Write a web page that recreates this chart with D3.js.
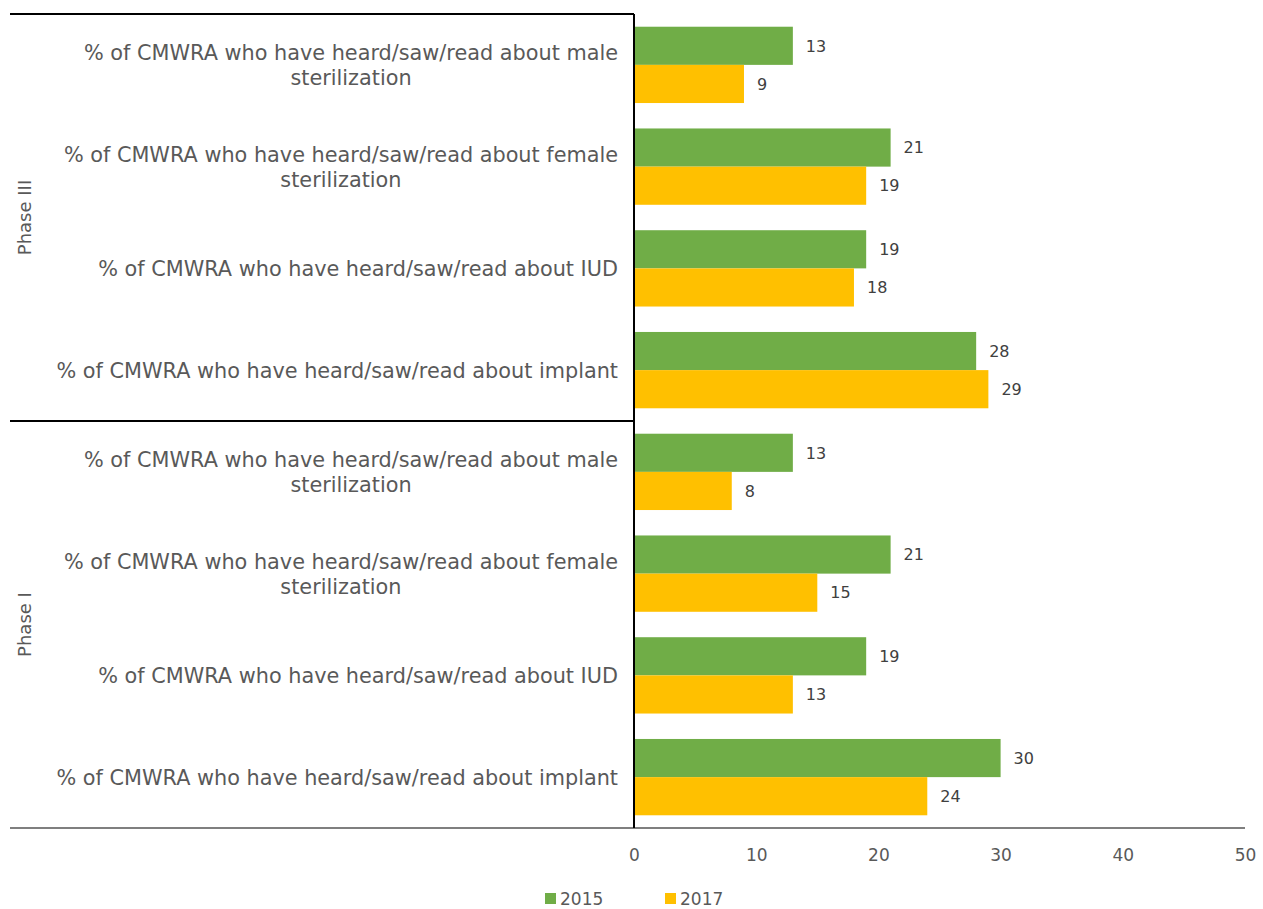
<!DOCTYPE html>
<html>
<head>
<meta charset="utf-8">
<script src="https://cdn.jsdelivr.net/npm/d3@7"></script>
<style>
  body { margin: 0; background: #fff; }
  svg text { font-family: "DejaVu Sans", "Open Sans", sans-serif; }
</style>
</head>
<body>
<svg id="chart" width="1263" height="909"></svg>
<script>
// Awareness of long-acting / permanent methods, by phase
const categories = [
  "% of CMWRA who have heard/saw/read about male sterilization",
  "% of CMWRA who have heard/saw/read about female sterilization",
  "% of CMWRA who have heard/saw/read about IUD",
  "% of CMWRA who have heard/saw/read about implant",
  "% of CMWRA who have heard/saw/read about male sterilization",
  "% of CMWRA who have heard/saw/read about female sterilization",
  "% of CMWRA who have heard/saw/read about IUD",
  "% of CMWRA who have heard/saw/read about implant"
];
// Line breaks used for the category labels
const categoryLines = [
  ["% of CMWRA who have heard/saw/read about male", "sterilization"],
  ["% of CMWRA who have heard/saw/read about female", "sterilization"],
  ["% of CMWRA who have heard/saw/read about IUD"],
  ["% of CMWRA who have heard/saw/read about implant"],
  ["% of CMWRA who have heard/saw/read about male", "sterilization"],
  ["% of CMWRA who have heard/saw/read about female", "sterilization"],
  ["% of CMWRA who have heard/saw/read about IUD"],
  ["% of CMWRA who have heard/saw/read about implant"]
];
const phases = ["Phase III", "Phase I"];
const phaseSize = 4;
const seriesNames = ["2015", "2017"];
const values2015 = [13, 21, 19, 28, 13, 21, 19, 30];
const values2017 = [9, 19, 18, 29, 8, 15, 13, 24];
const xTicks = [0, 10, 20, 30, 40, 50];
const colors = ["#70AD47", "#FFC000"];

const svg = d3.select("#chart");
const plotLeft = 634, plotRight = 1245, plotTop = 14, plotBottom = 828, frameLeft = 10;
const labelRight = 618, labelWidest = 562;

const x = d3.scaleLinear().domain([0, 50]).range([plotLeft, plotRight]);
const idx = d3.range(categories.length);
const y = d3.scaleBand().domain(idx).range([plotTop, plotBottom]).paddingInner(0.25).paddingOuter(0.125);
const sub = d3.scaleBand().domain(seriesNames).range([0, y.bandwidth()]);
const series = [values2015, values2017];

// Bars and value labels
series.forEach((vals, s) => {
  svg.append("g").selectAll("rect").data(idx).join("rect")
    .attr("x", x(0))
    .attr("y", i => y(i) + sub(seriesNames[s]))
    .attr("width", i => x(vals[i]) - x(0))
    .attr("height", sub.bandwidth())
    .attr("fill", colors[s]);
  svg.append("g").selectAll("text").data(idx).join("text")
    .attr("x", i => x(vals[i]) + 13)
    .attr("y", i => y(i) + sub(seriesNames[s]) + sub.bandwidth() / 2)
    .attr("dy", "0.36em")
    .attr("font-size", 16)
    .attr("fill", "#404040")
    .text(i => vals[i]);
});

// Frame lines: top, phase divider, vertical axis
const step = y.step();
const frame = svg.append("g").attr("stroke", "#000").attr("stroke-width", 1.2).attr("shape-rendering", "crispEdges");
frame.append("line").attr("x1", frameLeft).attr("x2", plotLeft).attr("y1", plotTop).attr("y2", plotTop);
frame.append("line").attr("x1", frameLeft).attr("x2", plotLeft)
  .attr("y1", plotTop + step * phaseSize).attr("y2", plotTop + step * phaseSize);
frame.append("line").attr("x1", plotLeft).attr("x2", plotLeft).attr("y1", plotTop).attr("y2", plotBottom);

// X axis
const xAxis = svg.append("g").attr("transform", `translate(0,${plotBottom})`)
  .call(d3.axisBottom(x).tickValues(xTicks).tickSize(0).tickPadding(21));
xAxis.select(".domain").attr("d", `M${frameLeft},0H${plotRight}`).attr("stroke", "#000").attr("stroke-width", 1.2);
xAxis.selectAll("text").attr("font-size", 17).attr("fill", "#595959")
  .attr("font-family", "DejaVu Sans, sans-serif");

// Category labels: size the font so the widest line spans the label column
const probe = svg.append("text").attr("font-size", 20).text(categoryLines[3][0]);
const catSize = 20 * labelWidest / probe.node().getComputedTextLength();
probe.remove();

const lineH = 25;
const catG = svg.append("g");
idx.forEach(i => {
  const lines = categoryLines[i];
  const cy = y(i) + y.bandwidth() / 2;
  const t = catG.append("text")
    .attr("font-size", catSize)
    .attr("fill", "#595959")
    .attr("text-anchor", "middle");
  lines.forEach((ln, k) => {
    t.append("tspan")
      .attr("x", 0)
      .attr("y", cy + (k - (lines.length - 1) / 2) * lineH)
      .attr("dy", "0.36em")
      .text(ln);
  });
  // centre each block under its right-aligned longest line
  const w = t.node().getBBox().width;
  t.attr("transform", `translate(${labelRight - w / 2},0)`);
});

// Phase labels
phases.forEach((p, k) => {
  const cy = plotTop + step * phaseSize * (k + 0.5);
  svg.append("text")
    .attr("transform", `translate(31,${cy}) rotate(-90)`)
    .attr("text-anchor", "middle")
    .attr("font-size", 18)
    .attr("fill", "#595959")
    .text(p);
});

// Legend
const legend = svg.append("g").attr("transform", "translate(545,899)");
seriesNames.forEach((n, s) => {
  const g = legend.append("g").attr("transform", `translate(${s * 120},0)`);
  g.append("rect").attr("x", 0).attr("y", -6).attr("width", 11).attr("height", 11).attr("fill", colors[s]);
  g.append("text").attr("x", 15).attr("y", 0).attr("dy", "0.36em")
    .attr("font-size", 17).attr("fill", "#595959").text(n);
});
</script>
</body>
</html>
